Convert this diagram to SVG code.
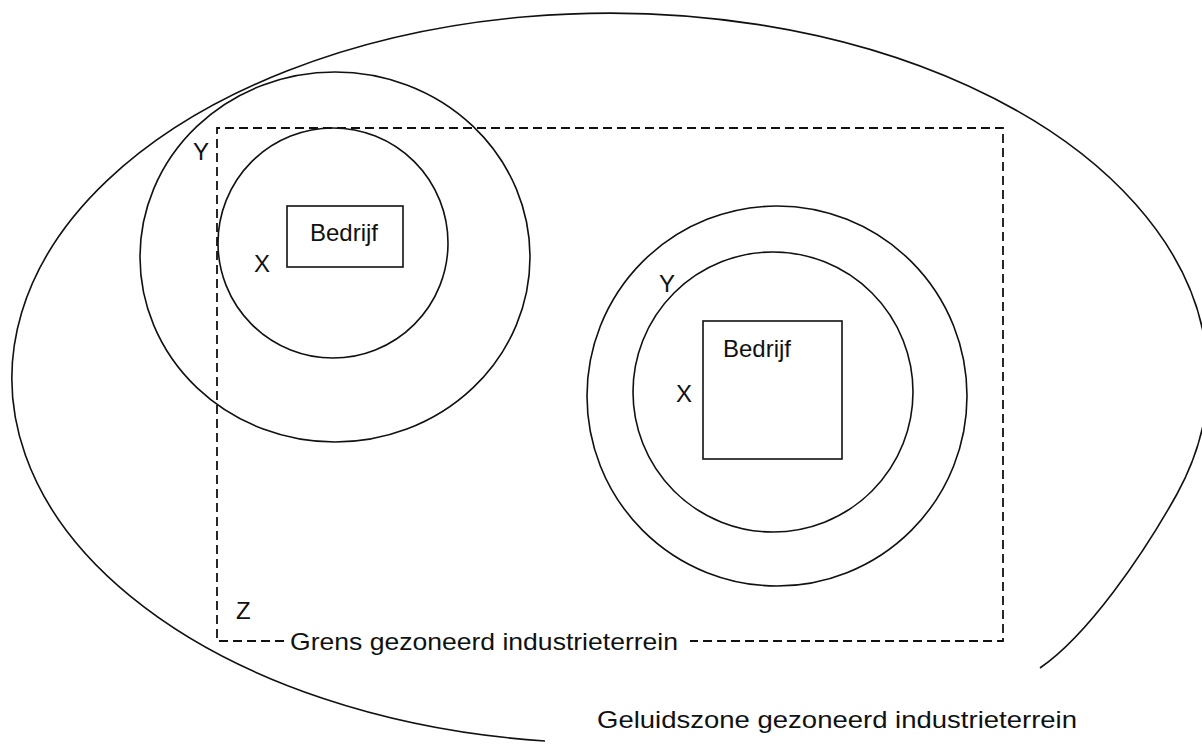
<svg xmlns="http://www.w3.org/2000/svg" width="1202" height="747" viewBox="0 0 1202 747">
<style>
.ln{fill:none;stroke:#111;stroke-width:1.6}
.dash{fill:none;stroke:#111;stroke-width:1.8;stroke-dasharray:9 5}
.t{font-family:"Liberation Sans",Arial,sans-serif;font-size:24px;fill:#111}
</style>
<rect width="1202" height="747" fill="#fff"/>
<g id="geluidszone">
<path class="ln" d="M545 741 A598 365 0 1 1 1177 494 C1143 555 1088 635 1040 668"/>
<text class="t" x="597" y="728" textLength="480" lengthAdjust="spacingAndGlyphs">Geluidszone gezoneerd industrieterrein</text>
</g>
<g id="grens">
<path class="dash" d="M284 641 H217 V128 H1003 V641 H690"/>
<text class="t" x="290" y="650" textLength="388" lengthAdjust="spacingAndGlyphs">Grens gezoneerd industrieterrein</text>
<text class="t" x="236" y="619">Z</text>
</g>
<g id="bedrijf1">
<ellipse class="ln" cx="335" cy="257" rx="195" ry="185"/>
<circle class="ln" cx="333" cy="243" r="115"/>
<rect class="ln" x="287" y="206" width="116" height="61"/>
<text class="t" x="310" y="241">Bedrijf</text>
<text class="t" x="254" y="272">X</text>
<text class="t" x="193" y="160">Y</text>
</g>
<g id="bedrijf2">
<circle class="ln" cx="777" cy="396" r="190"/>
<circle class="ln" cx="773" cy="392" r="140"/>
<rect class="ln" x="703" y="321" width="139" height="138"/>
<text class="t" x="723" y="357">Bedrijf</text>
<text class="t" x="676" y="402">X</text>
<text class="t" x="659" y="292">Y</text>
</g>
<g id="connectors"/>
</svg>
